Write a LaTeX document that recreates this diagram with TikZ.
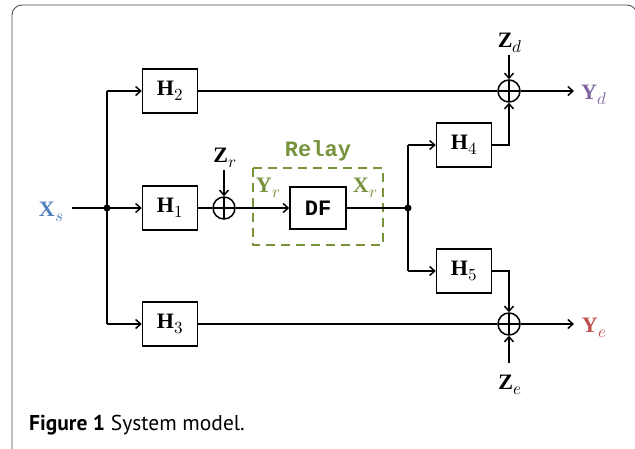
\documentclass[tikz,border=0pt]{standalone}
\usepackage{fontspec}
\usepackage{unicode-math}
\setmathfont{Latin Modern Math}
\newfontfamily\monofam{Liberation Mono}
\newfontfamily\capfam{PT Sans}
\newfontfamily\bsfam{Liberation Serif}
\newcommand{\bv}[2]{{\bsfam\bfseries #1}\kern0.5pt\raisebox{-5pt}{\fontsize{17}{18}\selectfont$#2$}}
\usetikzlibrary{arrows.meta,calc}
\definecolor{xblue}{HTML}{4F81BD}
\definecolor{ypurple}{HTML}{8064A2}
\definecolor{yred}{HTML}{C0504D}
\definecolor{rgreen}{HTML}{77933C}
\definecolor{framegray}{HTML}{505050}
\begin{document}
\begin{tikzpicture}[x=1pt,y=-1pt,
  sig/.style={line width=1.5pt},
  arr/.style={sig,-{Straight Barb[length=5pt,width=9pt,line width=1.5pt]}},
  hbox/.style={draw,line width=1.5pt,minimum width=55pt,minimum height=44pt,inner sep=0pt,font=\fontsize{22}{24}\selectfont},
  adder/.style={draw,circle,line width=1.5pt,minimum size=22pt,inner sep=0pt,
    path picture={\draw[line width=1.5pt] (path picture bounding box.north) -- (path picture bounding box.south)
      (path picture bounding box.west) -- (path picture bounding box.east);}},
  mlab/.style={inner sep=0pt,font=\fontsize{22}{24}\selectfont},
  dot/.style={circle,fill,inner sep=0pt,minimum size=7pt}]
\useasboundingbox (0,0) rectangle (635,448);
\draw[framegray,line width=0.9pt,rounded corners=10pt] (637,460) -- (637,5) -- (12,5) -- (12,460);

% nodes
\node[hbox] (H2) at (170,91) {\bv{H}{2}};
\node[hbox] (H1) at (170,208) {\bv{H}{1}};
\node[hbox] (H3) at (170,324) {\bv{H}{3}};
\node[hbox] (H4) at (464,145) {\bv{H}{4}};
\node[hbox] (H5) at (464,271) {\bv{H}{5}};
\node[hbox,minimum width=56pt,minimum height=42pt,font=\monofam\bfseries\fontsize{22}{24}\selectfont] (DF) at (318,208) {DF};
\node[adder] (sr) at (224,208) {};
\node[adder] (sd) at (509,91) {};
\node[adder] (se) at (509,324) {};
\node[dot] (j1) at (107,208) {};
\node[dot] (j2) at (408,208) {};

\node[mlab,text=xblue] (Xs) at (51,212) {\bv{X}{s}};
\node[mlab] (Zr) at (225,158) {\bv{Z}{r}};
\node[mlab] (Zd) at (510,43) {\bv{Z}{d}};
\node[mlab] (Ze) at (510,385) {\bv{Z}{e}};
\node[mlab,text=ypurple] (Yd) at (594,95) {\bv{Y}{d}};
\node[mlab,text=yred] (Ye) at (594,328) {\bv{Y}{e}};
\node[mlab,text=rgreen] (Yr) at (268,188) {\bv{Y}{r}};
\node[mlab,text=rgreen] (Xr) at (365,188) {\bv{X}{r}};
\node[inner sep=0pt,text=rgreen,font=\monofam\bfseries\fontsize{22}{24}\selectfont] (relay) at (318,151) {Relay};

\coordinate (xs0) at (72,208);
\coordinate (zr0) at (224,170);
\coordinate (zd0) at (509,55);
\coordinate (ze0) at (509,363);
\coordinate (yd0) at (574,91);
\coordinate (ye0) at (574,324);

% relay box
\draw[rgreen,line width=2.6pt,dash pattern=on 9pt off 6pt] (253,168) rectangle (383,245);

% connectors
\draw[sig] (xs0) -- (j1.center);
\draw[sig] (j1.center |- H2) -- (j1.center |- H3);
\draw[arr] (j1.center) -- (H1.west);
\draw[arr] (j1.center |- H2) -- (H2.west);
\draw[arr] (j1.center |- H3) -- (H3.west);
\draw[sig] (H1.east) -- (sr.west);
\draw[arr] (zr0) -- (sr.north);
\draw[arr] (sr.east) -- (DF.west);
\draw[sig] (DF.east) -- (j2.center);
\draw[sig] (j2.center |- H4) -- (j2.center |- H5);
\draw[arr] (j2.center |- H4) -- (H4.west);
\draw[arr] (j2.center |- H5) -- (H5.west);
\draw[sig] (H2.east) -- (sd.west);
\draw[arr] (zd0) -- (sd.north);
\draw[arr] (H4.east) -| (sd.south);
\draw[arr] (sd.east) -- (yd0);
\draw[sig] (H3.east) -- (se.west);
\draw[arr] (ze0) -- (se.south);
\draw[arr] (H5.east) -| (se.north);
\draw[arr] (se.east) -- (ye0);

% caption
\node[anchor=base west,inner sep=0pt,font=\capfam\fontsize{21.5}{24}\selectfont] (cap) at (29,430) {\textbf{Figure 1} System model.};
\end{tikzpicture}
\end{document}
